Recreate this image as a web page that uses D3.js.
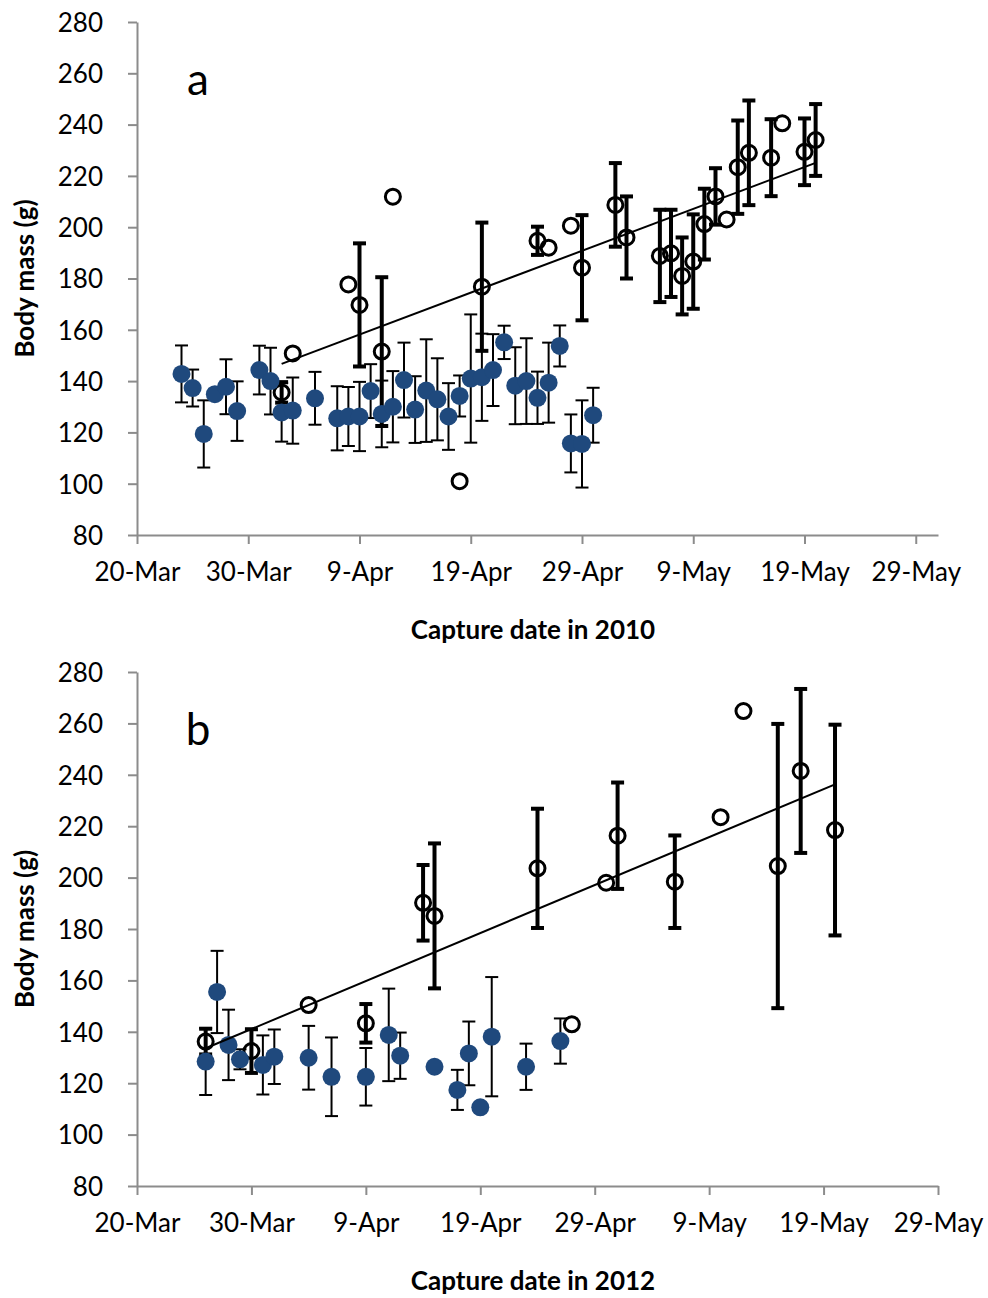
<!DOCTYPE html>
<html>
<head>
<meta charset="utf-8">
<script src="https://cdn.jsdelivr.net/npm/d3@7"></script>
<style>
  body { margin: 0; background: #fff; }
  svg text { font-family: Lato, "Open Sans", sans-serif; fill: #000; }
</style>
</head>
<body>
<svg id="chart" width="988" height="1298"></svg>
<script>
// tick labels shared by both panels
const tickDates = ["20-Mar", "30-Mar", "9-Apr", "19-Apr", "29-Apr", "9-May", "19-May", "29-May"];
const massTicks = [80, 100, 120, 140, 160, 180, 200, 220, 240, 260, 280];

// 2010: [date, mean mass, error]  (null = no error bar shown)
const filled2010 = [
    ["24-Mar", 142.8, 11.1], ["25-Mar", 137.3, 7.2], ["26-Mar", 119.4, 13.1], ["27-Mar", 134.9, null],
    ["28-Mar", 137.8, 10.7], ["29-Mar", 128.3, 11.6], ["31-Mar", 144.3, 9.5], ["1-Apr", 140.0, 13.0],
    ["2-Apr", 127.8, 11.4], ["3-Apr", 128.5, 12.9], ["5-Apr", 133.3, 10.3], ["7-Apr", 125.5, 12.5],
    ["8-Apr", 126.2, 11.5], ["9-Apr", 126.2, 13.5], ["10-Apr", 136.1, 10.5], ["11-Apr", 127.2, 13.0],
    ["12-Apr", 130.0, 13.9], ["13-Apr", 140.4, 14.6], ["14-Apr", 128.9, 13.0], ["15-Apr", 136.3, 20.0],
    ["16-Apr", 132.9, 16.0], ["17-Apr", 126.2, 13.0], ["18-Apr", 134.2, 8.0], ["19-Apr", 141.0, 25.0],
    ["20-Apr", 141.5, 17.0], ["21-Apr", 144.3, 14.0], ["22-Apr", 155.1, 6.5], ["23-Apr", 138.2, 15.0],
    ["24-Apr", 140.0, 16.7], ["25-Apr", 133.5, 10.2], ["26-Apr", 139.4, 15.6], ["27-Apr", 153.7, 8.0],
    ["28-Apr", 115.7, 11.3], ["29-Apr", 115.5, 17.0], ["30-Apr", 126.7, 10.7]
];
const open2010 = [
    ["2-Apr", 135.6, 4], ["3-Apr", 150.8, null], ["8-Apr", 177.7, null], ["9-Apr", 169.7, 24],
    ["11-Apr", 151.5, 29], ["12-Apr", 211.9, null], ["18-Apr", 101.0, null], ["20-Apr", 176.8, 25],
    ["25-Apr", 194.7, 5.5], ["26-Apr", 192.0, null], ["28-Apr", 200.6, null], ["29-Apr", 184.2, 20.5],
    ["2-May", 208.7, 16.3], ["3-May", 196.0, 16], ["6-May", 188.8, 18], ["7-May", 189.8, 17],
    ["8-May", 181.0, 15], ["9-May", 186.6, 18.4], ["10-May", 201.2, 13.8], ["11-May", 212.0, 11],
    ["12-May", 203.0, null], ["13-May", 223.4, 18.2], ["14-May", 229.0, 20.4], ["16-May", 227.1, 15],
    ["17-May", 240.5, null], ["19-May", 229.4, 13], ["20-May", 234.0, 14]
];
const trend2010 = [["2-Apr", 146.7], ["20-May", 225.1]];

// 2012
const filled2012 = [
    ["26-Mar", 128.4, 13], ["27-Mar", 155.5, 16], ["28-Mar", 134.9, 13.7], ["29-Mar", 129.3, 3.9],
    ["31-Mar", 127.1, 11.5], ["1-Apr", 130.3, 10.6], ["4-Apr", 129.9, 12.4], ["6-Apr", 122.5, 15.3],
    ["9-Apr", 122.5, 11.2], ["11-Apr", 138.8, 18], ["12-Apr", 130.7, 9], ["15-Apr", 126.4, null],
    ["17-Apr", 117.4, 7.8], ["18-Apr", 131.6, 12.4], ["19-Apr", 110.6, null], ["20-Apr", 138.1, 23.2],
    ["23-Apr", 126.4, 9], ["26-Apr", 136.4, 8.8]
];
const open2012 = [
    ["26-Mar", 136.2, 5], ["30-Mar", 132.5, 8.5], ["4-Apr", 150.4, null], ["9-Apr", 143.3, 7.5],
    ["14-Apr", 190.2, 14.7], ["15-Apr", 185.1, 28.2], ["24-Apr", 203.6, 23.2], ["27-Apr", 142.9, null],
    ["30-Apr", 198.0, null], ["1-May", 216.3, 20.7], ["6-May", 198.4, 18], ["10-May", 223.5, null],
    ["12-May", 264.8, null], ["15-May", 204.5, 55.3], ["17-May", 241.5, 31.9], ["20-May", 218.5, 41]
];
const trend2012 = [["26-Mar", 133.6], ["20-May", 236.3]];

const svg = d3.select("#chart");
const blue = "#1F497D";
const axisGrey = "#8c8c8c";

function drawPanel(cfg) {
    const parse = s => d3.timeParse("%d-%b-%Y")(s + "-" + cfg.year);
    const x = d3.scaleTime()
        .domain([parse("20-Mar"), parse(cfg.endDate)])
        .range([137, 938]);
    const y = d3.scaleLinear().domain([80, 280]).range([cfg.bottom, cfg.top]);

    const g = svg.append("g");

    // axes
    const yAxis = g.append("g")
        .attr("transform", "translate(137,0)")
        .call(d3.axisLeft(y).tickValues(massTicks).tickSize(9).tickSizeOuter(0).tickPadding(25));
    const xAxis = g.append("g")
        .attr("transform", "translate(0," + cfg.bottom + ")")
        .call(d3.axisBottom(x).tickValues(tickDates.map(parse)).tickFormat(d3.timeFormat("%-d-%b"))
            .tickSize(9).tickSizeOuter(0).tickPadding(19));
    [xAxis, yAxis].forEach(a => {
        a.select(".domain").attr("stroke", axisGrey).attr("stroke-width", 2);
        a.selectAll(".tick line").attr("stroke", axisGrey).attr("stroke-width", 2);
        a.selectAll(".tick text").style("font-size", "26px").attr("fill", "#000");
    });
    yAxis.selectAll(".tick text").attr("dy", "0.36em");

    // axis titles
    g.append("text")
        .attr("transform", "translate(34," + (cfg.top + cfg.bottom) / 2 + ") rotate(-90)")
        .attr("text-anchor", "middle")
        .style("font-size", "26px").style("font-weight", "bold")
        .text("Body mass (g)");
    g.append("text")
        .attr("x", 533).attr("y", cfg.bottom + 104)
        .attr("text-anchor", "middle")
        .style("font-size", "26px").style("font-weight", "bold")
        .text(cfg.xTitle);
    g.append("text")
        .attr("x", 198).attr("y", cfg.top + 73)
        .attr("text-anchor", "middle")
        .style("font-size", "44px")
        .text(cfg.letter);

    const row = d => ({date: parse(d[0]), mass: d[1], err: d[2]});
    const filled = cfg.filled.map(row);
    const open = cfg.open.map(row);

    function errorBars(data, width, cap) {
        const bars = g.append("g").selectAll("g").data(data.filter(d => d.err != null)).join("g")
            .attr("stroke", "#000").attr("stroke-width", width);
        bars.append("line")
            .attr("x1", d => x(d.date)).attr("x2", d => x(d.date))
            .attr("y1", d => y(d.mass + d.err)).attr("y2", d => y(d.mass - d.err));
        bars.append("line")
            .attr("x1", d => x(d.date) - cap).attr("x2", d => x(d.date) + cap)
            .attr("y1", d => y(d.mass + d.err)).attr("y2", d => y(d.mass + d.err));
        bars.append("line")
            .attr("x1", d => x(d.date) - cap).attr("x2", d => x(d.date) + cap)
            .attr("y1", d => y(d.mass - d.err)).attr("y2", d => y(d.mass - d.err));
    }

    // open circles (thick error bars)
    errorBars(open, 4, 6.5);
    g.append("g").selectAll("circle").data(open).join("circle")
        .attr("cx", d => x(d.date)).attr("cy", d => y(d.mass)).attr("r", 7.5)
        .attr("fill", "none").attr("stroke", "#000").attr("stroke-width", 3);

    // filled circles (thin error bars)
    errorBars(filled, 2, 6.5);
    g.append("g").selectAll("circle").data(filled).join("circle")
        .attr("cx", d => x(d.date)).attr("cy", d => y(d.mass)).attr("r", 9)
        .attr("fill", blue);

    // linear trend over the open circles
    g.append("path")
        .datum(cfg.trend.map(d => ({date: parse(d[0]), mass: d[1]})))
        .attr("fill", "none").attr("stroke", "#000").attr("stroke-width", 2)
        .attr("d", d3.line().x(d => x(d.date)).y(d => y(d.mass)));
}

drawPanel({year: 2010, endDate: "31-May", top: 22, bottom: 535, letter: "a",
    xTitle: "Capture date in 2010", filled: filled2010, open: open2010, trend: trend2010});
drawPanel({year: 2012, endDate: "29-May", top: 672, bottom: 1186, letter: "b",
    xTitle: "Capture date in 2012", filled: filled2012, open: open2012, trend: trend2012});
</script>
</body>
</html>
